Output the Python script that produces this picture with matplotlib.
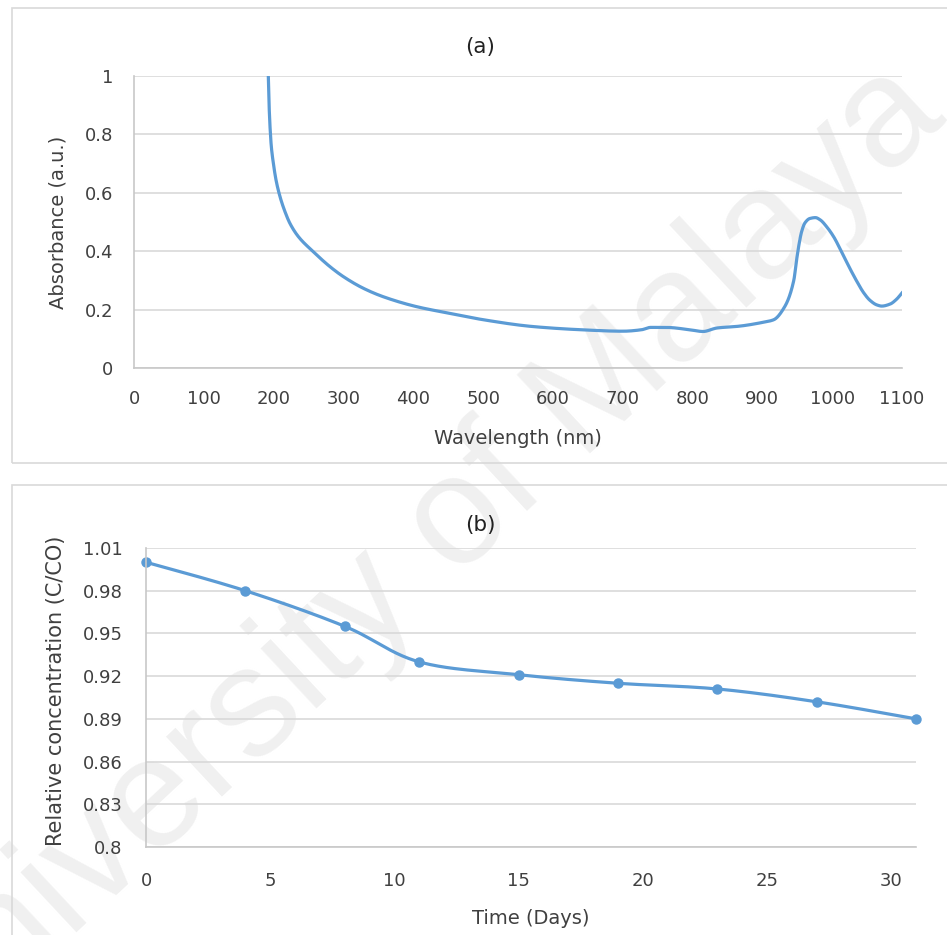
import matplotlib
matplotlib.use("Agg")
import matplotlib.pyplot as plt
from matplotlib.patches import Rectangle
import numpy as np

# ---- panel (a): UV-vis spectrum
wavelength = [192.4, 193.4, 194.8, 196.7, 199.6, 203.4, 209.1, 216.3, 223.4,
              235.4, 256.9, 280.7, 299.8, 328.5, 357.1, 404.9, 452.6, 501,
              571, 640, 700, 727, 740, 762, 796, 815, 835, 866, 900, 916,
              932, 945, 949, 953, 956, 961, 968, 976, 983, 992, 1002, 1013,
              1026, 1035, 1045, 1054, 1064, 1071, 1083, 1092, 1100]
absorbance = [0.998, 0.906, 0.827, 0.758, 0.701, 0.644, 0.587, 0.535, 0.495,
              0.450, 0.398, 0.347, 0.313, 0.273, 0.244, 0.210, 0.187, 0.165,
              0.142, 0.131, 0.126, 0.131, 0.139, 0.139, 0.131, 0.125, 0.137,
              0.143, 0.156, 0.165, 0.21, 0.30, 0.37, 0.43, 0.465, 0.497,
              0.512, 0.515, 0.507, 0.484, 0.45, 0.40, 0.338, 0.298, 0.258,
              0.232, 0.216, 0.212, 0.219, 0.235, 0.257]

# ---- panel (b): relative concentration vs time
days = [0, 4, 8, 11, 15, 19, 23, 27, 31]
conc = [1.0, 0.98, 0.955, 0.93, 0.921, 0.915, 0.911, 0.902, 0.89]

a_yticks = [0, 0.2, 0.4, 0.6, 0.8, 1.0]
a_ylabels = ['0', '0.2', '0.4', '0.6', '0.8', '1']
a_xticks = list(range(0, 1101, 100))
b_yticks = [0.8, 0.83, 0.86, 0.89, 0.92, 0.95, 0.98, 1.01]
b_xticks = [0, 5, 10, 15, 20, 25, 30]

blue = '#5B9BD5'
grid = '#D9D9D9'
txt = '#404040'


def pchip(x, y, n=4000):
    # monotone cubic through the read points (spectrum drawing)
    x = np.asarray(x, float)
    y = np.asarray(y, float)
    h = np.diff(x)
    d = np.diff(y) / h
    m = np.zeros_like(y)
    for k in range(1, len(x) - 1):
        if d[k-1] * d[k] > 0:
            w1 = 2*h[k] + h[k-1]
            w2 = h[k] + 2*h[k-1]
            m[k] = (w1 + w2) / (w1/d[k-1] + w2/d[k])
    m[0] = d[0]
    m[-1] = d[-1]
    xs = np.linspace(x[0], x[-1], n)
    i = np.clip(np.searchsorted(x, xs) - 1, 0, len(h) - 1)
    t = (xs - x[i]) / h[i]
    ys = ((2*t**3 - 3*t**2 + 1)*y[i] + (t**3 - 2*t**2 + t)*h[i]*m[i]
          + (-2*t**3 + 3*t**2)*y[i+1] + (t**3 - t**2)*h[i]*m[i+1])
    return xs, ys


def smooth(x, y, n=25):
    # excel style smoothed line (catmull-rom as bezier)
    p = np.column_stack([x, y]).astype(float)
    p = np.vstack([p[0], p, p[-1]])
    out = []
    t = np.linspace(0, 1, n)[:, None]
    for i in range(1, len(p) - 2):
        p0, p1, p2, p3 = p[i-1], p[i], p[i+1], p[i+2]
        c1 = p1 + (p2 - p0) / 6.
        c2 = p2 - (p3 - p1) / 6.
        out.append((1-t)**3*p1 + 3*(1-t)**2*t*c1 + 3*(1-t)*t**2*c2 + t**3*p2)
    pts = np.vstack(out)
    return pts[:, 0], pts[:, 1]


def style(ax):
    ax.set_facecolor('none')
    for s in ['top', 'right']:
        ax.spines[s].set_visible(False)
    for s in ['left', 'bottom']:
        ax.spines[s].set_color('#C8C8C8')
        ax.spines[s].set_linewidth(1.2)
    ax.grid(axis='y', color=grid, linewidth=1.2)
    ax.set_axisbelow(True)
    ax.tick_params(length=0, labelsize=13, labelcolor=txt)


W, H = 947, 935
fig = plt.figure(figsize=(W/100., H/100.), dpi=100)

# watermark
fig.text(408./W, 1-568./H, 'University of Malaya', rotation=43, fontsize=112,
         color='#F0F0F0', ha='center', va='center', family='Liberation Sans',
         zorder=-2)

# chart area borders
fig.patches.append(Rectangle((12./W, 1-463./H), 1.1, 455./H, transform=fig.transFigure,
                             fill=False, edgecolor=grid, linewidth=1.2, zorder=-1))
fig.patches.append(Rectangle((12./W, -0.1), 1.1, 0.1+1-485./H, transform=fig.transFigure,
                             fill=False, edgecolor=grid, linewidth=1.2, zorder=-1))

# ---------- (a)
ax1 = fig.add_axes([134./W, 1-368./H, 768./W, 292./H])
style(ax1)
sx, sy = pchip(wavelength, absorbance)
ax1.plot(sx, sy, color=blue, linewidth=2.3)
ax1.set_xlim(0, 1100)
ax1.set_ylim(0, 1)
ax1.set_xticks(a_xticks)
ax1.set_yticks(a_yticks)
ax1.set_yticklabels(a_ylabels)
ax1.tick_params(axis='x', pad=16)
ax1.tick_params(axis='y', pad=15)
ax1.set_xlabel('Wavelength (nm)', fontsize=14, color=txt, va='center')
ax1.xaxis.set_label_coords(0.5, (368-438)/292.)
ax1.set_ylabel('Absorbance (a.u.)', fontsize=14, color=txt, va='center')
ax1.yaxis.set_label_coords((58-134)/768., 0.5)
fig.text(480./W, 1-47./H, '(a)', fontsize=15.5, color='#222222', ha='center', va='center')

# ---------- (b)
ax2 = fig.add_axes([146./W, 1-847./H, 770./W, 299./H])
style(ax2)
sx, sy = smooth(days, conc)
ax2.plot(sx, sy, color=blue, linewidth=2.3)
ax2.plot(days, conc, 'o', color=blue, markersize=6.5, clip_on=False)
ax2.set_xlim(0, 31)
ax2.set_ylim(0.8, 1.01)
ax2.set_xticks(b_xticks)
ax2.set_yticks(b_yticks)
ax2.set_yticklabels(['%g' % v for v in b_yticks])
ax2.tick_params(axis='x', pad=18)
ax2.tick_params(axis='y', pad=17)
ax2.set_xlabel('Time (Days)', fontsize=14, color=txt, va='center')
ax2.xaxis.set_label_coords(0.5, (847-918)/299.)
ax2.set_ylabel('Relative concentration (C/CO)', fontsize=15, color=txt, va='center')
ax2.yaxis.set_label_coords((56-146)/770., 0.522)
fig.text(480./W, 1-525./H, '(b)', fontsize=15.5, color='#222222', ha='center', va='center')

plt.savefig('out.png', dpi=100)
